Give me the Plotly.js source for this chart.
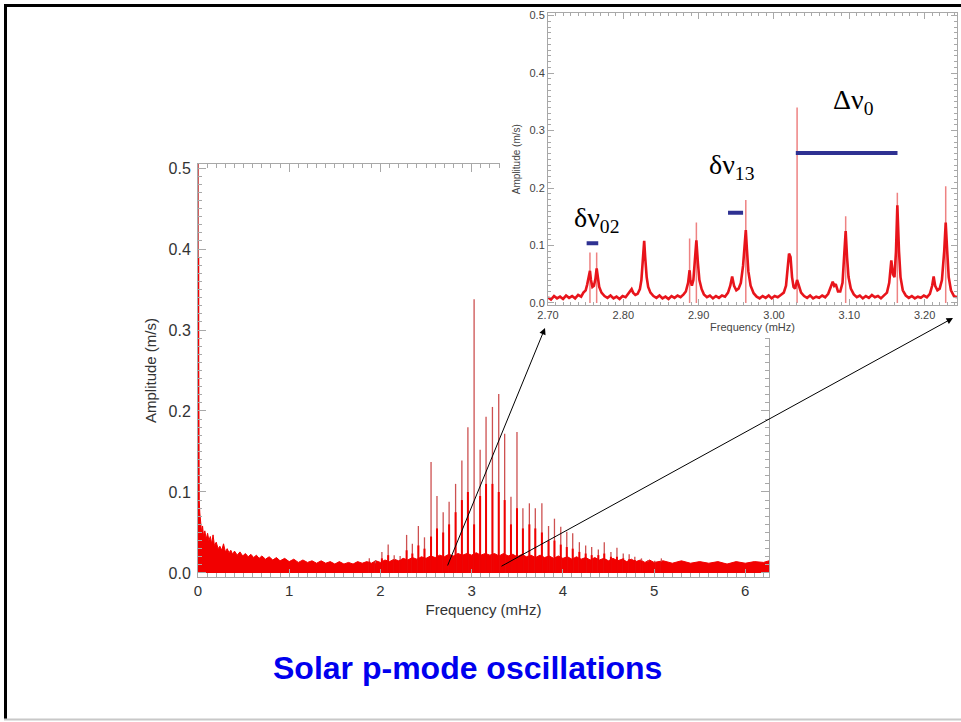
<!DOCTYPE html>
<html>
<head>
<meta charset="utf-8">
<script src="https://cdn.plot.ly/plotly-3.0.1.min.js"></script>
<style>
html,body{margin:0;padding:0;background:#fff;overflow:hidden;}
#main,#inset{position:absolute;left:0;top:0;width:961px;height:722px;}
</style>
</head>
<body>
<div id="main"></div>
<div id="inset"></div>
<script>
// ---------------- DATA ----------------
// Main spectrum: noise floor envelope (frequency mHz, amplitude m/s)
const noiseFreq = [0.000,0.004,0.008,0.013,0.020,0.030,0.040,0.050,0.060,0.075,0.090,0.105,0.120,0.135,0.150,0.165,0.180,0.200,0.220,0.240,0.260,0.280,0.300,0.320,0.340,0.360,0.380,0.400,0.430,0.460,0.490,0.520,0.550,0.580,0.610,0.640,0.670,0.700,0.740,0.780,0.820,0.860,0.900,0.950,1.000,1.050,1.100,1.150,1.200,1.250,1.300,1.350,1.400,1.450,1.500,1.550,1.600,1.650,1.700,1.750,1.800,1.850,1.900,1.950,2.000,2.050,2.100,2.150,2.200,2.250,2.300,2.350,2.400,2.450,2.500,2.550,2.600,2.650,2.700,2.750,2.800,2.850,2.900,2.950,3.000,3.050,3.100,3.150,3.200,3.250,3.300,3.350,3.400,3.450,3.500,3.550,3.600,3.650,3.700,3.750,3.800,3.850,3.900,3.950,4.000,4.050,4.100,4.150,4.200,4.250,4.300,4.350,4.400,4.450,4.500,4.550,4.600,4.650,4.700,4.750,4.800,4.850,4.900,4.950,5.000,5.100,5.200,5.300,5.400,5.500,5.600,5.700,5.800,5.900,6.000,6.100,6.200,6.260];
const noiseAmp  = [0.390,0.200,0.120,0.090,0.074,0.062,0.050,0.058,0.046,0.052,0.042,0.049,0.040,0.045,0.036,0.047,0.034,0.038,0.030,0.033,0.028,0.036,0.026,0.030,0.025,0.028,0.023,0.027,0.022,0.026,0.021,0.024,0.020,0.023,0.019,0.022,0.018,0.021,0.017,0.020,0.016,0.019,0.015,0.018,0.014,0.017,0.013,0.016,0.013,0.015,0.012,0.015,0.012,0.014,0.011,0.014,0.011,0.013,0.011,0.014,0.012,0.014,0.012,0.015,0.013,0.016,0.014,0.017,0.015,0.018,0.016,0.019,0.017,0.020,0.018,0.021,0.019,0.022,0.020,0.023,0.021,0.024,0.022,0.024,0.022,0.025,0.022,0.024,0.022,0.024,0.021,0.024,0.021,0.023,0.020,0.023,0.020,0.022,0.019,0.022,0.019,0.021,0.018,0.021,0.018,0.020,0.017,0.020,0.017,0.019,0.016,0.019,0.016,0.018,0.015,0.018,0.015,0.017,0.014,0.017,0.014,0.016,0.013,0.016,0.013,0.015,0.012,0.015,0.012,0.014,0.012,0.014,0.011,0.014,0.012,0.014,0.013,0.015];

// Main spectrum: p-mode peaks (frequency, spike top, red body top)
const peakFreq = [0.003,1.878,1.945,2.016,2.085,2.151,2.216,2.287,2.350,2.416,2.483,2.555,2.620,2.688,2.753,2.824,2.893,2.959,3.027,3.093,3.158,3.228,3.297,3.362,3.431,3.497,3.562,3.633,3.698,3.770,3.843,3.908,3.977,4.043,4.108,4.181,4.250,4.316,4.389,4.454,4.527,4.593,4.662,4.727,4.789,4.862,4.934,5.007,5.080];
const peakAmp  = [0.520,0.018,0.016,0.026,0.035,0.022,0.021,0.047,0.036,0.058,0.044,0.137,0.095,0.075,0.088,0.110,0.139,0.180,0.338,0.152,0.193,0.205,0.221,0.172,0.094,0.174,0.080,0.086,0.080,0.086,0.058,0.067,0.057,0.051,0.049,0.038,0.034,0.032,0.029,0.038,0.026,0.031,0.024,0.023,0.020,0.018,0.016,0.015,0.018];
const peakBody = [0.390,0.014,0.012,0.018,0.022,0.016,0.016,0.028,0.024,0.034,0.030,0.045,0.055,0.050,0.060,0.075,0.090,0.100,0.060,0.095,0.110,0.110,0.100,0.090,0.060,0.080,0.055,0.060,0.055,0.050,0.040,0.040,0.035,0.032,0.030,0.026,0.024,0.022,0.022,0.024,0.020,0.020,0.018,0.017,0.016,0.015,0.014,0.013,0.014];

// Inset: zoomed spectrum 2.70 - 3.24 mHz
const insetFreq = [2.700,2.704,2.708,2.712,2.716,2.720,2.724,2.728,2.732,2.736,2.740,2.744,2.747,2.750,2.752,2.754,2.7557,2.757,2.759,2.761,2.763,2.7646,2.766,2.768,2.771,2.775,2.779,2.783,2.787,2.791,2.795,2.799,2.803,2.806,2.809,2.811,2.813,2.816,2.819,2.822,2.824,2.826,2.8277,2.829,2.831,2.833,2.836,2.840,2.844,2.848,2.852,2.856,2.860,2.864,2.868,2.872,2.876,2.880,2.883,2.886,2.888,2.889,2.891,2.893,2.895,2.897,2.899,2.901,2.904,2.907,2.911,2.915,2.919,2.923,2.927,2.931,2.935,2.939,2.942,2.9445,2.947,2.950,2.953,2.956,2.959,2.961,2.9626,2.964,2.966,2.969,2.973,2.977,2.981,2.985,2.989,2.993,2.997,3.001,3.005,3.009,3.013,3.016,3.018,3.020,3.022,3.024,3.026,3.028,3.0307,3.033,3.036,3.040,3.044,3.048,3.052,3.056,3.060,3.064,3.068,3.072,3.075,3.078,3.080,3.082,3.085,3.088,3.091,3.093,3.0952,3.097,3.099,3.102,3.106,3.110,3.114,3.118,3.122,3.126,3.130,3.134,3.138,3.142,3.146,3.150,3.153,3.1558,3.158,3.160,3.162,3.1638,3.166,3.168,3.171,3.175,3.179,3.183,3.187,3.191,3.195,3.199,3.203,3.207,3.210,3.212,3.214,3.217,3.220,3.223,3.226,3.228,3.230,3.232,3.235,3.239,3.243];
const insetAmp  = [0.010,0.006,0.012,0.008,0.011,0.007,0.013,0.009,0.012,0.008,0.014,0.011,0.018,0.022,0.032,0.045,0.056,0.040,0.028,0.030,0.042,0.060,0.042,0.028,0.018,0.012,0.009,0.013,0.008,0.011,0.007,0.012,0.010,0.015,0.020,0.024,0.018,0.014,0.016,0.024,0.040,0.075,0.108,0.080,0.045,0.028,0.018,0.012,0.009,0.013,0.008,0.011,0.007,0.012,0.009,0.013,0.010,0.015,0.020,0.035,0.057,0.040,0.030,0.040,0.070,0.109,0.070,0.040,0.024,0.015,0.010,0.013,0.008,0.012,0.009,0.013,0.011,0.018,0.030,0.046,0.030,0.022,0.025,0.035,0.065,0.100,0.127,0.095,0.055,0.030,0.017,0.011,0.008,0.012,0.009,0.013,0.008,0.012,0.010,0.014,0.018,0.030,0.060,0.086,0.080,0.045,0.028,0.025,0.040,0.030,0.018,0.012,0.009,0.013,0.008,0.011,0.009,0.013,0.010,0.016,0.025,0.037,0.030,0.033,0.020,0.020,0.035,0.070,0.125,0.080,0.045,0.025,0.015,0.010,0.013,0.008,0.012,0.009,0.014,0.010,0.012,0.008,0.013,0.018,0.035,0.074,0.050,0.045,0.090,0.170,0.090,0.045,0.022,0.013,0.009,0.012,0.008,0.011,0.009,0.013,0.010,0.016,0.030,0.046,0.030,0.022,0.025,0.040,0.090,0.140,0.090,0.045,0.022,0.012,0.010];
// Inset: thin spike tops of the resolved modes
const insetSpikeFreq = [2.7557,2.7646,2.888,2.897,2.9626,3.0307,3.0952,3.1638,3.228];
const insetSpikeAmp  = [0.088,0.088,0.112,0.140,0.179,0.340,0.151,0.192,0.203];

// Inset: frequency separation markers
const sepLabels = ['δν<sub>02</sub>','δν<sub>13</sub>','Δν<sub>0</sub>'];
const sepStart  = [2.7513,2.939,3.029];
const sepEnd    = [2.7667,2.959,3.164];
const sepLevel  = [0.104,0.157,0.261];

// Tick labels
const mainXTicks = [0,1,2,3,4,5,6];
const mainXText  = ['0','1','2','3','4','5','6'];
const mainYTicks = [0,0.1,0.2,0.3,0.4,0.5];
const mainYText  = ['0.0','0.1','0.2','0.3','0.4','0.5'];
const insetXTicks = [2.7,2.8,2.9,3.0,3.1,3.2];
const insetXText  = ['2.70','2.80','2.90','3.00','3.10','3.20'];
const insetYTicks = [0,0.1,0.2,0.3,0.4,0.5];
const insetYText  = ['0.0','0.1','0.2','0.3','0.4','0.5'];

const chartTitle = 'Solar p-mode oscillations';
const xTitle = 'Frequency (mHz)';
const yTitle = 'Amplitude (m/s)';

// ---------------- helpers ----------------
function stems(fs, as){
  const x=[], y=[];
  fs.forEach((f,i)=>{ x.push(f,f,null); y.push(0,as[i],null); });
  return {x,y};
}
function segs(a,b,lv){
  const x=[], y=[];
  a.forEach((s,i)=>{ x.push(s,b[i],null); y.push(lv[i],lv[i],null); });
  return {x,y};
}

const W=961,H=722;
const FONT='Liberation Sans, Arial, sans-serif';
const AXC='#a8a8a8';

// ---------------- MAIN PLOT ----------------
const spk = stems(peakFreq, peakAmp);
const bod = stems(peakFreq, peakBody);
const mainTraces = [
  {x:noiseFreq, y:noiseAmp, type:'scatter', mode:'lines', fill:'tozeroy',
   fillcolor:'#f20000', line:{color:'#f20000', width:1}, hoverinfo:'skip'},
  {x:spk.x, y:spk.y, type:'scatter', mode:'lines', line:{color:'rgb(205,80,80)', width:1.3}, hoverinfo:'skip'},
  {x:bod.x, y:bod.y, type:'scatter', mode:'lines', line:{color:'#f00000', width:2}, hoverinfo:'skip'}
];
const mainLayout = {
  width:W, height:H, margin:{l:0,r:0,t:0,b:0},
  paper_bgcolor:'#ffffff', plot_bgcolor:'#ffffff', showlegend:false,
  xaxis:{domain:[198/W,769/W], range:[0,6.26], tickvals:mainXTicks, ticktext:mainXText,
    showline:true, linecolor:AXC, linewidth:1, mirror:'allticks', ticks:'inside', ticklen:8, tickcolor:AXC,
    minor:{ticks:'inside', ticklen:4, tickcolor:AXC, dtick:0.1, showgrid:false},
    showgrid:false, zeroline:false, tickfont:{family:FONT,size:15,color:'#333'},
    title:{text:xTitle, font:{family:FONT,size:15,color:'#333'}, standoff:6}},
  yaxis:{domain:[1-577/H,1-164/H], range:[-0.005,0.505], tickvals:mainYTicks, ticktext:mainYText,
    showline:true, linecolor:AXC, linewidth:1, mirror:'allticks', ticks:'inside', ticklen:8, tickcolor:AXC,
    minor:{ticks:'inside', ticklen:4, tickcolor:AXC, dtick:0.01, showgrid:false},
    showgrid:false, zeroline:false, tickfont:{family:FONT,size:16,color:'#333'}, ticklabelstandoff:3,
    title:{text:yTitle, font:{family:FONT,size:15,color:'#333'}, standoff:8}}
};
Plotly.newPlot('main', mainTraces, mainLayout, {staticPlot:true, displayModeBar:false});

// ---------------- INSET + OVERLAY ----------------
const isp = stems(insetSpikeFreq, insetSpikeAmp);
const sg = segs(sepStart, sepEnd, sepLevel);
const insetTraces = [
  {x:isp.x, y:isp.y, xaxis:'x', yaxis:'y', type:'scatter', mode:'lines', line:{color:'rgb(238,130,130)', width:1.5}, hoverinfo:'skip'},
  {x:insetFreq, y:insetAmp, xaxis:'x', yaxis:'y', type:'scatter', mode:'lines', line:{color:'#e8141b', width:2.6}, hoverinfo:'skip'},
  {x:sg.x, y:sg.y, xaxis:'x', yaxis:'y', type:'scatter', mode:'lines', line:{color:'#2e3192', width:4}, hoverinfo:'skip'}
];
const labelPos = [[2.765,0.146],[2.944,0.238],[3.106,0.350]];
const ann = sepLabels.map((t,i)=>({x:labelPos[i][0], y:labelPos[i][1], xref:'x', yref:'y', text:t, showarrow:false,
  xanchor:'center', yanchor:'middle',
  font:{family:'Liberation Serif, Times New Roman, serif', size:28, color:'#000'}}));
ann.push({x:545/W, y:1-328/H, xref:'paper', yref:'paper', ax:-98, ay:239, text:'', showarrow:true,
  arrowhead:2, arrowsize:1.3, arrowwidth:1, arrowcolor:'#000', standoff:0, startstandoff:0});
ann.push({x:953/W, y:1-318/H, xref:'paper', yref:'paper', ax:-453, ay:249, text:'', showarrow:true,
  arrowhead:2, arrowsize:1.3, arrowwidth:1, arrowcolor:'#000', standoff:0, startstandoff:0});
ann.push({x:467/W, y:1-668/H, xref:'paper', yref:'paper', xanchor:'center', yanchor:'middle',
  text:'<b>'+chartTitle+'</b>', showarrow:false,
  font:{family:FONT, size:32, color:'#0000ee'}});

const insetLayout = {
  width:W, height:H, margin:{l:0,r:0,t:0,b:0},
  paper_bgcolor:'rgba(0,0,0,0)', plot_bgcolor:'rgba(0,0,0,0)', showlegend:false,
  shapes:[
    {type:'rect', xref:'paper', yref:'paper', x0:500/W, x1:1, y0:1-338/H, y1:1, fillcolor:'#ffffff', line:{width:0}, layer:'below'},
    {type:'line', xref:'paper', yref:'paper', x0:5.5/W, x1:5.5/W, y0:1-719/H, y1:1-4/H, line:{color:'#000', width:3}},
    {type:'line', xref:'paper', yref:'paper', x0:4/W, x1:1, y0:1-5.5/H, y1:1-5.5/H, line:{color:'#000', width:3}},
    {type:'line', xref:'paper', yref:'paper', x0:4/W, x1:1, y0:1-719.5/H, y1:1-719.5/H, line:{color:'#c8c8c8', width:2}}
  ],
  annotations:ann,
  xaxis:{domain:[548/W,957/W], range:[2.70,3.243], tickvals:insetXTicks, ticktext:insetXText,
    showline:true, linecolor:AXC, linewidth:1, mirror:'allticks', ticks:'inside', ticklen:6, tickcolor:AXC,
    minor:{ticks:'inside', ticklen:3, tickcolor:AXC, dtick:0.01, showgrid:false},
    showgrid:false, zeroline:false, tickfont:{family:FONT,size:11,color:'#444'},
    title:{text:xTitle, font:{family:FONT,size:11,color:'#444'}, standoff:2}},
  yaxis:{domain:[1-305/H,1-13.3/H], range:[-0.0035,0.504], tickvals:insetYTicks, ticktext:insetYText,
    showline:true, linecolor:AXC, linewidth:1, mirror:'allticks', ticks:'inside', ticklen:6, tickcolor:AXC,
    minor:{ticks:'inside', ticklen:3, tickcolor:AXC, dtick:0.01, showgrid:false},
    showgrid:false, zeroline:false, tickfont:{family:FONT,size:11,color:'#444'},
    title:{text:yTitle, font:{family:FONT,size:10,color:'#444'}, standoff:6}}
};
Plotly.newPlot('inset', insetTraces, insetLayout, {staticPlot:true, displayModeBar:false});
</script>
</body>
</html>
